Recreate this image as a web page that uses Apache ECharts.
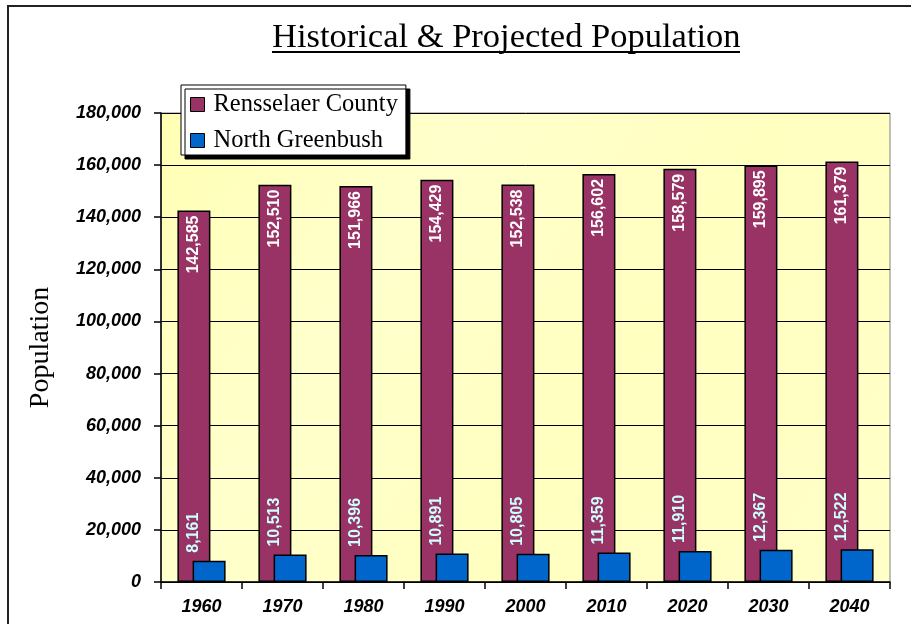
<!DOCTYPE html>
<html>
<head>
<meta charset="utf-8">
<script src="https://cdn.jsdelivr.net/npm/echarts@6/dist/echarts.min.js"></script>
<style>
  html, body { margin: 0; padding: 0; background: #fff; }
  #main { width: 911px; height: 624px; }
</style>
</head>
<body>
<div id="main"></div>
<script>
// data
var years = ['1960', '1970', '1980', '1990', '2000', '2010', '2020', '2030', '2040']
var rensselaer = [142585, 152510, 151966, 154429, 152538, 156602, 158579, 159895, 161379]
var northGreenbush = [8161, 10513, 10396, 10891, 10805, 11359, 11910, 12367, 12522]
var yTicks = [0, 20000, 40000, 60000, 80000, 100000, 120000, 140000, 160000, 180000]

function fmt(v) {
  return v.toLocaleString('en-US')
}

var chart = echarts.init(document.getElementById('main'))
var option = {
  animation: false,
  backgroundColor: '#fff',
  title: {
    text: 'Historical & Projected Population',
    left: 267,
    top: 15,
    textStyle: {
      fontFamily: 'Liberation Serif',
      fontWeight: 'normal',
      fontSize: 34.5,
      color: '#000'
    }
  },
  legend: {
    orient: 'vertical',
    left: 181,
    top: 85,
    padding: [7, 8, 2, 9],
    itemGap: 11,
    itemWidth: 14,
    itemHeight: 14,
    backgroundColor: '#fff',
    borderColor: '#000',
    borderWidth: 1,
    shadowColor: '#000',
    shadowBlur: 0,
    shadowOffsetX: 4,
    shadowOffsetY: 4,
    icon: 'rect',
    itemStyle: { borderColor: '#000', borderWidth: 1 },
    textStyle: {
      fontFamily: 'Liberation Serif',
      fontSize: 24.5,
      color: '#000',
      padding: [0, 0, 0, 4]
    },
    data: ['Rensselaer County', 'North Greenbush']
  },
  graphic: [
    {
      type: 'rect',
      shape: { x: 8, y: 6, width: 1000, height: 1000 },
      style: { fill: null, stroke: '#222', lineWidth: 2 },
      silent: true
    },
    {
      type: 'line',
      shape: { x1: 272, y1: 52, x2: 740, y2: 52 },
      style: { stroke: '#000', lineWidth: 2 },
      silent: true
    }
  ],
  grid: {
    left: 161,
    right: 21,
    top: 113,
    bottom: 42,
    show: true,
    borderColor: '#808080',
    borderWidth: 1,
    backgroundColor: new echarts.graphic.LinearGradient(0, 0, 1, 1, [
      { offset: 0, color: '#FFFFB4' },
      { offset: 0.3, color: '#FFFFCC' },
      { offset: 0.6, color: '#FFFFC0' },
      { offset: 1, color: '#FFFFC8' }
    ])
  },
  xAxis: {
    type: 'category',
    data: years,
    axisLine: { lineStyle: { color: '#000', width: 1.5 } },
    axisTick: { show: true, length: 7, lineStyle: { color: '#000', width: 1.5 } },
    axisLabel: {
      margin: 16,
      fontFamily: 'Liberation Sans',
      fontWeight: 'bold',
      fontStyle: 'italic',
      fontSize: 18,
      color: '#000'
    }
  },
  yAxis: {
    type: 'value',
    min: yTicks[0],
    max: yTicks[yTicks.length - 1],
    interval: yTicks[1] - yTicks[0],
    name: 'Population',
    nameLocation: 'middle',
    nameGap: 106,
    nameTextStyle: {
      fontFamily: 'Liberation Serif',
      fontSize: 28,
      color: '#000'
    },
    axisLine: { show: true, lineStyle: { color: '#000', width: 1.5 } },
    axisTick: { show: true, length: 7, lineStyle: { color: '#000', width: 1.5 } },
    axisLabel: {
      margin: 20,
      fontFamily: 'Liberation Sans',
      fontWeight: 'bold',
      fontStyle: 'italic',
      fontSize: 18,
      color: '#000',
      formatter: function (v) { return fmt(v) }
    },
    splitLine: { show: true, lineStyle: { color: '#000', width: 1 } }
  },
  series: [
    {
      name: 'Rensselaer County',
      type: 'bar',
      data: rensselaer,
      barWidth: 33,
      barGap: '-54%',
      itemStyle: { color: '#993366', borderColor: '#000', borderWidth: 1.5 },
      label: {
        show: true,
        position: 'insideTop',
        distance: 5,
        rotate: 90,
        align: 'right',
        verticalAlign: 'middle',
        fontFamily: 'Liberation Sans',
        fontWeight: 'bold',
        fontSize: 16,
        color: '#fff',
        formatter: function (p) { return fmt(p.value) }
      }
    },
    {
      name: 'North Greenbush',
      type: 'bar',
      data: northGreenbush,
      barWidth: 33,
      itemStyle: { color: '#0066CC', borderColor: '#000', borderWidth: 1.5 },
      label: {
        show: true,
        position: 'top',
        fontFamily: 'Liberation Sans',
        fontWeight: 'bold',
        fontSize: 16,
        color: '#CCFFFF',
        formatter: function (p) { return fmt(p.value) }
      },
      // label sits above the blue bar, over the middle of the maroon bar
      labelLayout: function (params) {
        return {
          x: params.rect.x + params.rect.width / 2 - 15,
          y: params.rect.y - 8,
          align: 'left',
          verticalAlign: 'middle',
          rotate: 90
        }
      }
    }
  ]
}
chart.setOption(option)
</script>
</body>
</html>
